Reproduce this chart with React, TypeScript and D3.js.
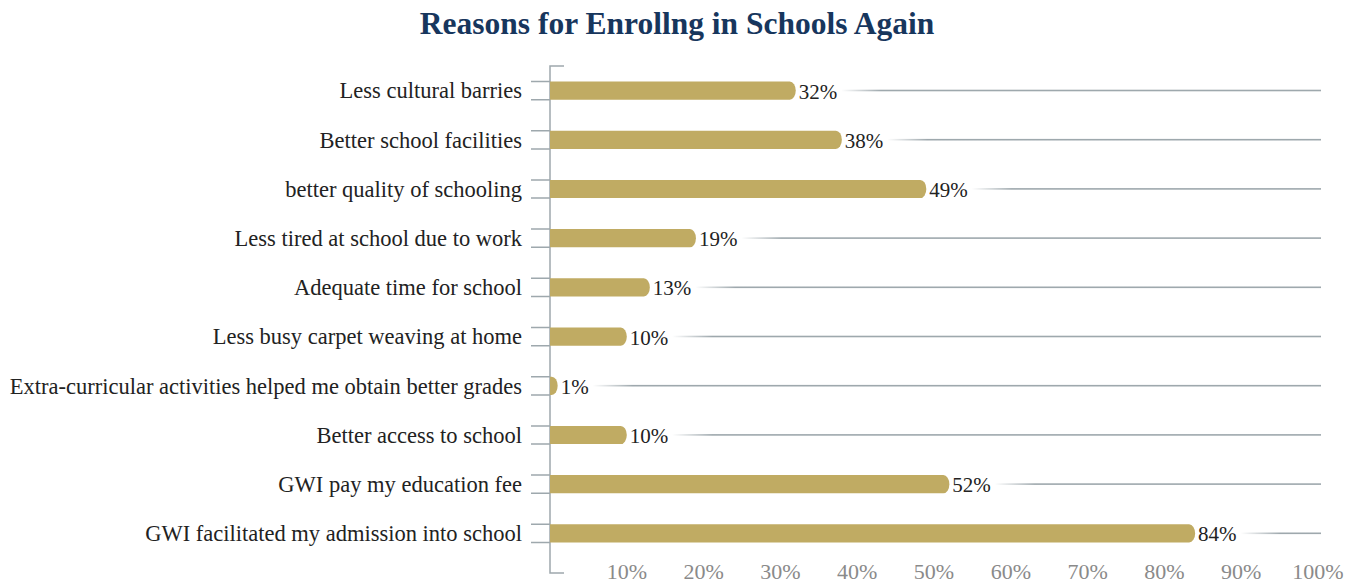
import React, { useEffect, useRef } from "react";
import * as d3 from "d3";

const categories = [
  "Less cultural barries",
  "Better school facilities",
  "better quality of schooling",
  "Less tired at school due to work",
  "Adequate time for school",
  "Less busy carpet weaving at home",
  "Extra-curricular activities helped me obtain better grades",
  "Better access to school",
  "GWI pay my education fee",
  "GWI facilitated my admission into school",
];
const values = [32, 38, 49, 19, 13, 10, 1, 10, 52, 84];
const tickValues = [10, 20, 30, 40, 50, 60, 70, 80, 90, 100];
const title = "Reasons for Enrollng in Schools Again";

const W = 1361;
const H = 583;
const FONT = "'Liberation Serif', 'Times New Roman', serif";

export default function App() {
  const ref = useRef<SVGSVGElement | null>(null);

  useEffect(() => {
    const svg = d3.select(ref.current);
    svg.selectAll("*").remove();

    const x = d3.scaleLinear().domain([0, 100]).range([550, 1318]);
    const y = d3
      .scaleBand<string>()
      .domain(categories)
      .range([66, 558])
      .paddingInner(0.63)
      .paddingOuter(0.315);
    const bh = y.bandwidth();
    const axisColor = "#9ea8ad";
    const barColor = "#c0ab63";

    svg
      .append("text")
      .attr("x", 677)
      .attr("y", 34)
      .attr("text-anchor", "middle")
      .attr("font-family", FONT)
      .attr("font-weight", "bold")
      .attr("font-size", 31.5)
      .attr("fill", "#17365d")
      .text(title);

    const defs = svg.append("defs");

    svg
      .append("path")
      .attr("d", `M564,66 H550 V573 H564`)
      .attr("fill", "none")
      .attr("stroke", axisColor)
      .attr("stroke-width", 1.5);

    categories.forEach((c, i) => {
      const y0 = y(c)!;
      const cy = y0 + bh / 2;
      const x0 = x(0);
      const x1 = x(values[i]);
      const rx = Math.min(6, x1 - x0);
      svg
        .append("path")
        .attr("d", `M531,${y0} H550 M531,${y0 + bh} H550`)
        .attr("stroke", axisColor)
        .attr("stroke-width", 1.5)
        .attr("fill", "none");
      const r = bh / 2;
      svg
        .append("path")
        .attr(
          "d",
          `M${x0},${y0} H${x1 - rx} A${rx},${r} 0 0 1 ${x1 - rx},${y0 + bh} H${x0} Z`
        )
        .attr("fill", barColor);
      svg
        .append("text")
        .attr("x", 522)
        .attr("y", cy)
        .attr("dy", "0.35em")
        .attr("text-anchor", "end")
        .attr("font-family", FONT)
        .attr("font-size", 22.5)
        .attr("fill", "#222")
        .text(c);
      const lbl = svg
        .append("text")
        .attr("x", x1 + 3)
        .attr("y", cy)
        .attr("dy", "0.38em")
        .attr("font-family", FONT)
        .attr("font-size", 21)
        .attr("fill", "#222")
        .text(`${values[i]}%`);
      const tw = (lbl.node() as SVGTextElement).getComputedTextLength();
      const ls = x1 + 3 + tw + 4;
      const le = 1321;
      const gid = `g${i}`;
      const g = defs
        .append("linearGradient")
        .attr("id", gid)
        .attr("gradientUnits", "userSpaceOnUse")
        .attr("x1", ls)
        .attr("x2", ls + 40)
        .attr("y1", 0)
        .attr("y2", 0);
      g.append("stop").attr("offset", 0).attr("stop-color", axisColor).attr("stop-opacity", 0);
      g.append("stop").attr("offset", 1).attr("stop-color", axisColor).attr("stop-opacity", 1);
      svg
        .append("rect")
        .attr("x", ls)
        .attr("y", cy - 0.9)
        .attr("width", le - ls)
        .attr("height", 1.6)
        .attr("fill", `url(#${gid})`);
    });

    tickValues.forEach((t) => {
      svg
        .append("text")
        .attr("x", x(t))
        .attr("y", 579)
        .attr("text-anchor", "middle")
        .attr("font-family", FONT)
        .attr("font-size", 22)
        .attr("fill", "#8a8a8a")
        .text(`${t}%`);
    });
  }, []);

  return (
    <svg
      ref={ref}
      width={W}
      height={H}
      style={{ position: "absolute", left: 0, top: 0, background: "#fff" }}
    />
  );
}
